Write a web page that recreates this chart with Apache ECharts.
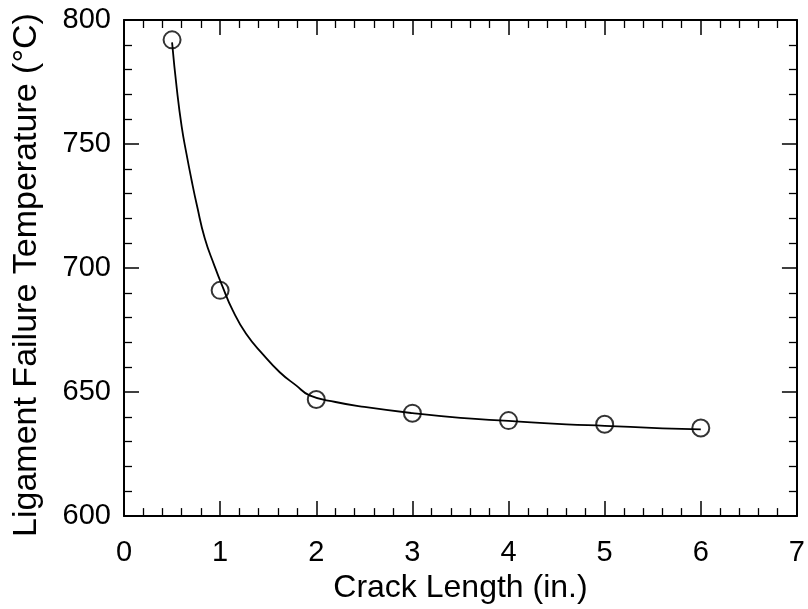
<!DOCTYPE html>
<html>
<head>
<meta charset="utf-8">
<script src="https://cdn.jsdelivr.net/npm/echarts@6/dist/echarts.min.js"></script>
<style>
  html, body { margin: 0; padding: 0; background: #fff; }
  #chart { width: 808px; height: 609px; }
</style>
</head>
<body>
<div id="chart"></div>
<script>
// measured points
const crackLength = [0.5, 1, 2, 3, 4, 5, 6]
const failTemp = [792, 691, 647, 641.5, 638.5, 637, 635.5]

// fitted curve
const curveX = [0.5, 0.55, 0.6, 0.65, 0.7, 0.76, 0.84, 0.94, 1.02, 1.13, 1.27, 1.45, 1.62, 1.79, 1.93, 2.2, 2.5, 3, 3.5, 4, 4.6, 5, 5.6, 6]
const curveY = [791, 772, 757, 746, 736, 725, 712, 701, 693, 683, 673.5, 665, 658, 652.7, 648.7, 646, 644, 641.5, 639.6, 638.4, 637, 636.4, 635.4, 635]

const font = 'Liberation Sans, Arial, Helvetica, sans-serif'
const lineStyle = { color: '#000', width: 2 }

let chart = echarts.init(document.getElementById('chart'))

let mkX = (pos, labels) => ({
  type: 'value',
  position: pos,
  min: 0,
  max: 7,
  interval: 1,
  axisLine: { show: true, onZero: false, lineStyle: lineStyle },
  axisTick: { show: true, inside: true, length: 15, lineStyle: { color: '#000', width: 1.5 } },
  minorTick: { show: true, splitNumber: 5, length: 8, lineStyle: { color: '#000', width: 1.3 } },
  splitLine: { show: false },
  axisLabel: { show: labels, color: '#000', fontSize: 29, fontFamily: font, margin: 22 },
})

let mkY = (pos, labels) => ({
  type: 'value',
  position: pos,
  min: 600,
  max: 800,
  interval: 50,
  axisLine: { show: true, onZero: false, lineStyle: lineStyle },
  axisTick: { show: true, inside: true, length: 15, lineStyle: { color: '#000', width: 1.5 } },
  minorTick: { show: true, splitNumber: 5, length: 8, lineStyle: { color: '#000', width: 1.3 } },
  splitLine: { show: false },
  axisLabel: { show: labels, color: '#000', fontSize: 29, fontFamily: font, margin: 13 },
})

let xBottom = mkX('bottom', true)
xBottom.name = 'Crack Length (in.)'
xBottom.nameLocation = 'middle'
xBottom.nameGap = 40
xBottom.nameTextStyle = { color: '#000', fontSize: 32, fontFamily: font }

let yLeft = mkY('left', true)
yLeft.name = 'Ligament Failure Temperature (°C)'
yLeft.nameLocation = 'middle'
yLeft.nameGap = 80
yLeft.nameTextStyle = { color: '#000', fontSize: 34, fontFamily: font, padding: [0, 14, 0, 0] }

chart.setOption({
  animation: false,
  grid: { left: 124, right: 9, top: 20, bottom: 91 },
  xAxis: [xBottom, mkX('top', false)],
  yAxis: [yLeft, mkY('right', false)],
  series: [
    {
      name: 'fit',
      type: 'line',
      smooth: 0.5,
      symbol: 'none',
      lineStyle: { color: '#000', width: 1.8 },
      data: curveX.map((x, i) => [x, curveY[i]]),
    },
    {
      name: 'data',
      type: 'scatter',
      symbol: 'circle',
      symbolSize: 17,
      itemStyle: { color: 'rgba(255,255,255,0)', borderColor: '#000', borderWidth: 2 },
      data: crackLength.map((x, i) => [x, failTemp[i]]),
    },
  ],
})
</script>
</body>
</html>
